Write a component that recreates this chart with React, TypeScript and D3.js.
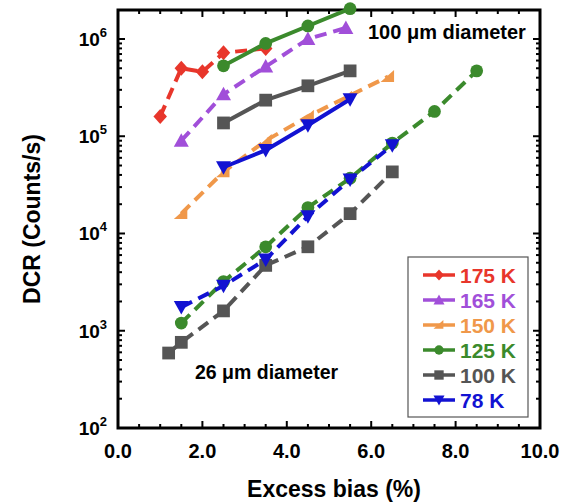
import * as d3 from "d3";
import { useEffect, useRef } from "react";

// 100 um diameter devices
const bias175 = [1.0, 1.5, 2.0, 2.5, 3.5];
const dcr175 = [1.6e5, 5.0e5, 4.6e5, 7.2e5, 8.0e5];
const bias165 = [1.5, 2.5, 3.5, 4.5, 5.4];
const dcr165 = [9.0e4, 2.7e5, 5.2e5, 1.0e6, 1.3e6];
const bias150 = [1.5, 2.5, 3.5, 4.5, 5.4, 6.4];
const dcr150 = [1.6e4, 4.3e4, 9.0e4, 1.6e5, 2.5e5, 4.1e5];
const bias125big = [2.5, 3.5, 4.5, 5.5];
const dcr125big = [5.3e5, 9.0e5, 1.36e6, 2.05e6];
const bias100big = [2.5, 3.5, 4.5, 5.5];
const dcr100big = [1.37e5, 2.35e5, 3.3e5, 4.7e5];
const bias78big = [2.5, 3.5, 4.5, 5.5];
const dcr78big = [4.8e4, 7.2e4, 1.3e5, 2.4e5];

// 26 um diameter devices
const bias125small = [1.5, 2.5, 3.5, 4.5, 5.5, 6.5, 7.5, 8.5];
const dcr125small = [1.2e3, 3.2e3, 7.3e3, 1.85e4, 3.7e4, 8.5e4, 1.8e5, 4.7e5];
const bias100small = [1.2, 1.5, 2.5, 3.5, 4.5, 5.5, 6.5];
const dcr100small = [590, 760, 1.6e3, 4.7e3, 7.3e3, 1.6e4, 4.3e4];
const bias78small = [1.5, 2.5, 3.5, 4.5, 5.5, 6.5];
const dcr78small = [1.75e3, 2.9e3, 5.4e3, 1.5e4, 3.6e4, 8.1e4];

const legendLabels = ["175 K", "165 K", "150 K", "125 K", "100 K", "78 K"];
const xTicks = [0, 2, 4, 6, 8, 10];
const yTicks = [2, 3, 4, 5, 6];

const colors: Record<string, string> = {
  "175 K": "#e8362b",
  "165 K": "#a14fd9",
  "150 K": "#f0984a",
  "125 K": "#3b8a2c",
  "100 K": "#555555",
  "78 K": "#1212d2",
};

const symbols: Record<string, string> = {
  "175 K": "diamond",
  "165 K": "up",
  "150 K": "left",
  "125 K": "circle",
  "100 K": "square",
  "78 K": "down",
};

const series = [
  { name: "175 K", x: bias175, y: dcr175, dashed: true },
  { name: "165 K", x: bias165, y: dcr165, dashed: true },
  { name: "150 K", x: bias150, y: dcr150, dashed: true },
  { name: "125 K", x: bias125big, y: dcr125big, dashed: false },
  { name: "100 K", x: bias100big, y: dcr100big, dashed: false },
  { name: "78 K", x: bias78big, y: dcr78big, dashed: false },
  { name: "125 K", x: bias125small, y: dcr125small, dashed: true },
  { name: "100 K", x: bias100small, y: dcr100small, dashed: true },
  { name: "78 K", x: bias78small, y: dcr78small, dashed: true },
];

const font = "'Liberation Sans', Arial, sans-serif";

function drawMarker(g, kind, cx, cy, color, s = 7.5) {
  let el;
  if (kind === "circle") {
    el = g.append("circle").attr("cx", cx).attr("cy", cy).attr("r", s * 0.85);
  } else if (kind === "square") {
    el = g.append("rect").attr("x", cx - s * 0.85).attr("y", cy - s * 0.85)
      .attr("width", s * 1.7).attr("height", s * 1.7);
  } else {
    let pts;
    if (kind === "diamond") pts = [[0, -s], [s * 0.9, 0], [0, s], [-s * 0.9, 0]];
    if (kind === "up") pts = [[0, -s], [s, s * 0.8], [-s, s * 0.8]];
    if (kind === "down") pts = [[0, s], [s, -s * 0.8], [-s, -s * 0.8]];
    if (kind === "left") pts = [[-s, s * 0.7], [s * 0.8, -s * 0.9], [s * 0.8, s * 0.7]];
    el = g.append("polygon").attr("points", pts.map((p) => `${cx + p[0]},${cy + p[1]}`).join(" "));
  }
  el.attr("fill", color);
}

const App = () => {
  const svgRef = useRef(null);

  useEffect(() => {
    const svg = d3.select(svgRef.current);
    svg.selectAll("*").remove();

    const left = 118, right = 540, top = 10, bottom = 428;

    const x = d3.scaleLinear().domain([0, 10]).range([left, right]);
    const y = d3.scaleLog().domain([100, Math.pow(10, 6.298)]).range([bottom, top]);

    // ticks
    const tg = svg.append("g").attr("stroke", "#000").attr("stroke-width", 2);
    for (let v = 0; v <= 10.001; v += 0.5) {
      const major = Math.abs(v - Math.round(v / 2) * 2) < 0.01;
      const len = major ? 7 : 4;
      const px = x(v);
      tg.append("line").attr("x1", px).attr("x2", px).attr("y1", bottom).attr("y2", bottom - len);
      tg.append("line").attr("x1", px).attr("x2", px).attr("y1", top).attr("y2", top + len);
    }
    for (let e = 2; e <= 6; e++) {
      for (let m = 1; m <= 9; m++) {
        const v = m * Math.pow(10, e);
        if (v > y.domain()[1]) break;
        const len = m === 1 ? 7 : 4;
        const py = y(v);
        tg.append("line").attr("x1", left).attr("x2", left + len).attr("y1", py).attr("y2", py);
        tg.append("line").attr("x1", right).attr("x2", right - len).attr("y1", py).attr("y2", py);
      }
    }

    // frame
    svg.append("rect")
      .attr("x", left).attr("y", top)
      .attr("width", right - left).attr("height", bottom - top)
      .attr("fill", "none").attr("stroke", "#000").attr("stroke-width", 3);

    // tick labels
    xTicks.forEach((v) => {
      svg.append("text")
        .attr("x", x(v)).attr("y", bottom + 30)
        .attr("text-anchor", "middle")
        .attr("font-family", font).attr("font-weight", "bold").attr("font-size", 20)
        .text(v.toFixed(1));
    });
    yTicks.forEach((e) => {
      const t = svg.append("text")
        .attr("x", left - 11).attr("y", y(Math.pow(10, e)) + 7)
        .attr("text-anchor", "end")
        .attr("font-family", font).attr("font-weight", "bold").attr("font-size", 19);
      t.append("tspan").text("10");
      t.append("tspan").attr("dy", -9).attr("font-size", 13).text(String(e));
    });

    // axis titles
    svg.append("text")
      .attr("x", 334).attr("y", 497)
      .attr("text-anchor", "middle")
      .attr("font-family", font).attr("font-weight", "bold").attr("font-size", 23)
      .text("Excess bias (%)");
    svg.append("text")
      .attr("transform", `translate(40, ${(top + bottom) / 2}) rotate(-90)`)
      .attr("text-anchor", "middle")
      .attr("font-family", font).attr("font-weight", "bold").attr("font-size", 23)
      .text("DCR (Counts/s)");

    // series
    const line = d3.line().x((d) => x(d[0])).y((d) => y(d[1]));
    series.forEach((s) => {
      const pts = s.x.map((v, i) => [v, s.y[i]]);
      const color = colors[s.name];
      svg.append("path")
        .datum(pts)
        .attr("fill", "none")
        .attr("stroke", color)
        .attr("stroke-width", 4)
        .attr("stroke-dasharray", s.dashed ? "12,7" : null)
        .attr("d", line);
      const mg = svg.append("g");
      pts.forEach((p) => drawMarker(mg, symbols[s.name], x(p[0]), y(p[1]), color));
    });

    // annotations
    svg.append("text")
      .attr("x", 368).attr("y", 39)
      .attr("font-family", font).attr("font-weight", "bold").attr("font-size", 20)
      .text("100 μm diameter");
    svg.append("text")
      .attr("x", 195).attr("y", 379)
      .attr("font-family", font).attr("font-weight", "bold").attr("font-size", 19.5)
      .text("26 μm diameter");

    // legend
    const lg = svg.append("g");
    lg.append("rect")
      .attr("x", 408).attr("y", 257).attr("width", 120).attr("height", 160)
      .attr("fill", "#fff").attr("stroke", "#555").attr("stroke-width", 1.2);
    legendLabels.forEach((name, i) => {
      const cy = 275 + i * 25;
      const color = colors[name];
      lg.append("line")
        .attr("x1", 423).attr("x2", 455).attr("y1", cy).attr("y2", cy)
        .attr("stroke", color).attr("stroke-width", 3.5);
      drawMarker(lg, symbols[name], 439, cy, color, 5.5);
      lg.append("text")
        .attr("x", 460).attr("y", cy + 7.5)
        .attr("fill", color)
        .attr("font-family", font).attr("font-weight", "bold").attr("font-size", 21)
        .text(name);
    });
  }, []);

  return (
    <svg
      ref={svgRef}
      width={567}
      height={502}
      style={{ position: "absolute", left: 0, top: 0, background: "#fff" }}
    ></svg>
  );
};

export default App;
